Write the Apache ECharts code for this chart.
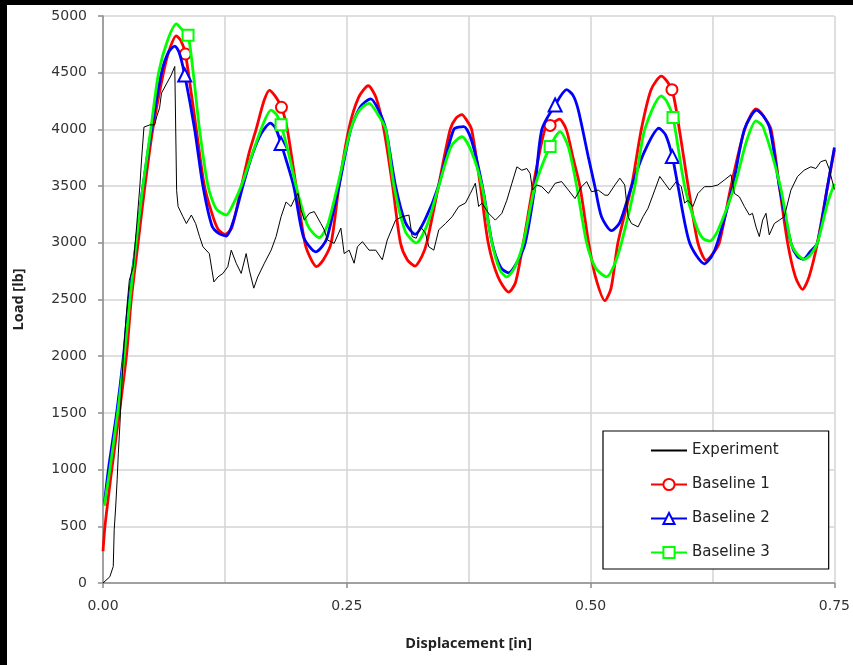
<!DOCTYPE html>
<html><head><meta charset="utf-8">
<script src="https://cdn.jsdelivr.net/npm/echarts@6/dist/echarts.min.js"></script>
<style>html,body{margin:0;padding:0;background:#fff}#c{width:853px;height:665px}</style>
</head><body><div id="c"></div>
<script>
// ---- data ----
const expX = [0.000,0.002,0.007,0.0105,0.0115,0.013,0.0145,0.0157,0.0174,0.019,0.0208,0.0232,0.0252,0.027,0.031,0.0344,0.0378,0.0395,0.042,0.0425,0.048,0.053,0.055,0.058,0.060,0.065,0.070,0.0736,0.0753,0.0755,0.077,0.082,0.0855,0.0906,0.095,0.099,0.1025,0.109,0.1137,0.118,0.123,0.128,0.1315,0.1366,0.1417,0.1468,0.150,0.1546,0.1587,0.1655,0.1724,0.1775,0.1826,0.1877,0.1928,0.196,0.200,0.203,0.2064,0.2115,0.2166,0.2234,0.2268,0.2302,0.237,0.2439,0.2473,0.2524,0.2575,0.2609,0.266,0.2728,0.2797,0.2864,0.2915,0.300,0.3068,0.3137,0.317,0.3212,0.3256,0.3307,0.3341,0.3392,0.3443,0.3512,0.358,0.3648,0.3716,0.3767,0.3818,0.3852,0.3886,0.3954,0.4023,0.409,0.4141,0.4193,0.4244,0.4295,0.4346,0.438,0.4404,0.4448,0.4499,0.4567,0.4636,0.4703,0.4772,0.484,0.4908,0.4959,0.501,0.5078,0.5147,0.518,0.5249,0.530,0.535,0.5385,0.5419,0.5487,0.5538,0.5589,0.5658,0.5709,0.576,0.5811,0.5879,0.593,0.5964,0.5998,0.6049,0.610,0.6168,0.6236,0.6305,0.6373,0.644,0.6475,0.6526,0.6577,0.6628,0.666,0.6696,0.673,0.6764,0.6798,0.6832,0.6884,0.6935,0.6986,0.7054,0.7122,0.719,0.7258,0.731,0.736,0.7411,0.7445,0.750];
const expY = [0,10,55,145,470,670,910,1140,1410,1700,2000,2290,2500,2670,2790,3140,3500,3730,4020,4030,4040,4040,4110,4190,4320,4400,4480,4555,4540,3460,3320,3230,3170,3245,3170,3055,2965,2905,2655,2700,2730,2790,2935,2820,2730,2905,2760,2600,2700,2820,2935,3055,3230,3360,3320,3380,3435,3290,3200,3260,3275,3170,3115,3025,2995,3130,2905,2935,2820,2965,3010,2935,2935,2850,3025,3200,3230,3245,3055,3040,3140,3085,2965,2935,3115,3170,3230,3320,3350,3435,3525,3320,3350,3260,3200,3260,3375,3525,3670,3640,3655,3610,3465,3510,3495,3435,3525,3540,3465,3390,3495,3540,3450,3465,3420,3420,3510,3570,3510,3230,3170,3140,3230,3305,3465,3585,3525,3465,3540,3495,3350,3375,3320,3435,3495,3495,3510,3555,3600,3435,3405,3320,3245,3260,3140,3055,3200,3260,3070,3170,3200,3230,3465,3585,3640,3670,3655,3715,3730,3655,3470];

const b1X = [0.000,0.002,0.009,0.0167,0.024,0.029,0.036,0.043,0.051,0.062,0.068,0.075,0.080,0.090,0.0957,0.104,0.112,0.118,0.125,0.132,0.142,0.150,0.157,0.165,0.1706,0.176,0.189,0.198,0.207,0.213,0.219,0.226,0.234,0.242,0.252,0.262,0.272,0.280,0.288,0.297,0.305,0.312,0.320,0.327,0.332,0.344,0.356,0.362,0.368,0.373,0.378,0.387,0.395,0.405,0.416,0.423,0.431,0.441,0.453,0.468,0.475,0.482,0.489,0.498,0.505,0.5147,0.521,0.528,0.542,0.552,0.562,0.5725,0.591,0.600,0.610,0.6185,0.625,0.632,0.644,0.658,0.6696,0.677,0.685,0.6935,0.702,0.710,0.7173,0.724,0.7326,0.743,0.750];
const b1Y = [280,500,1000,1500,2000,2500,3000,3500,4000,4500,4700,4825,4780,4350,4000,3500,3250,3120,3075,3130,3500,3800,4000,4250,4345,4300,4000,3500,3000,2860,2790,2850,3000,3500,4000,4280,4385,4280,4000,3500,3000,2850,2795,2880,3000,3500,4000,4100,4130,4080,4000,3500,3000,2700,2565,2650,3000,3500,4000,4090,4000,3750,3500,3000,2700,2490,2600,3000,3500,4000,4350,4470,4000,3500,3000,2845,2900,3000,3500,4000,4180,4120,4000,3500,3000,2700,2590,2700,3000,3500,3820];
const b1MarkX = [0.0845,0.183,0.4585,0.5834];
const b1MarkY = [4665,4195,4035,4350];

const b2X = [0.0013,0.0055,0.014,0.021,0.0266,0.034,0.041,0.0497,0.060,0.067,0.0736,0.078,0.094,0.1025,0.1117,0.119,0.1264,0.134,0.1434,0.152,0.162,0.1717,0.177,0.1955,0.2057,0.2183,0.225,0.230,0.242,0.254,0.264,0.2745,0.282,0.290,0.300,0.310,0.320,0.330,0.344,0.3597,0.370,0.378,0.389,0.399,0.408,0.416,0.424,0.433,0.443,0.450,0.4755,0.482,0.4874,0.4976,0.5044,0.5112,0.5215,0.530,0.542,0.555,0.570,0.577,0.5896,0.6015,0.6168,0.624,0.630,0.6458,0.6577,0.6703,0.677,0.684,0.6935,0.7054,0.712,0.718,0.725,0.7326,0.743,0.750];
const b2Y = [690,1000,1500,2000,2500,3000,3500,4000,4500,4680,4735,4680,4000,3500,3150,3080,3060,3200,3500,3750,3960,4055,4010,3500,3050,2920,2970,3050,3500,4000,4200,4270,4180,4000,3500,3180,3075,3200,3500,4000,4025,3900,3500,3000,2780,2735,2820,3000,3500,4000,4350,4300,4170,3760,3495,3230,3107,3180,3500,3800,4010,3950,3500,3000,2815,2880,3000,3500,4000,4170,4120,4000,3500,3000,2880,2855,2920,3000,3500,3840];
const b2MarkX = [0.0838,0.1826,0.4636,0.5838];
const b2MarkY = [4480,3875,4215,3760];

const b3X = [0.0013,0.007,0.015,0.0218,0.0276,0.034,0.041,0.049,0.057,0.066,0.0753,0.081,0.0925,0.099,0.1077,0.116,0.1264,0.134,0.1417,0.162,0.1724,0.178,0.190,0.198,0.210,0.2217,0.230,0.2405,0.254,0.263,0.2728,0.282,0.290,0.2984,0.310,0.3212,0.332,0.3443,0.357,0.368,0.378,0.3886,0.3988,0.407,0.414,0.422,0.431,0.443,0.4687,0.477,0.4857,0.4959,0.505,0.5163,0.524,0.5316,0.5453,0.5555,0.5725,0.578,0.5964,0.6083,0.615,0.622,0.630,0.6475,0.660,0.6696,0.677,0.6945,0.7054,0.712,0.719,0.726,0.7326,0.743,0.750];
const b3Y = [680,1000,1500,2000,2500,3000,3500,4000,4500,4780,4930,4880,4500,4000,3500,3300,3245,3350,3500,4000,4170,4130,3800,3500,3150,3045,3150,3500,4000,4170,4230,4130,4000,3500,3100,3000,3150,3500,3850,3935,3800,3500,3000,2760,2700,2780,3000,3500,3980,3850,3500,3000,2780,2700,2800,3000,3500,4000,4295,4250,3500,3150,3040,3015,3100,3500,3900,4075,4020,3500,3000,2900,2855,2900,3000,3350,3520];
const b3MarkX = [0.0872,0.1826,0.4585,0.5845];
const b3MarkY = [4830,4040,3850,4105];

const xTicks = [0, 0.25, 0.5, 0.75];
const yTicks = [0,500,1000,1500,2000,2500,3000,3500,4000,4500,5000];

// ---- build ----
function build(xs, ys, mx, my) {
  const pts = xs.map((x, i) => ({ value: [x, ys[i]], symbol: 'none' }));
  (mx || []).forEach((x, i) => pts.push({ value: [x, my[i]] }));
  pts.sort((a, b) => a.value[0] - b.value[0]);
  return pts;
}
function plain(xs, ys) { return xs.map((x, i) => [x, ys[i]]); }

const font = 'DejaVu Sans';
const chart = echarts.init(document.getElementById('c'), null, { renderer: 'canvas' });
chart.setOption({
  animation: false,
  backgroundColor: '#ffffff',
  graphic: [
    { type: 'rect', left: 0, top: 0, z: 100, shape: { width: 853, height: 5 }, style: { fill: '#000' } },
    { type: 'rect', left: 0, top: 0, z: 100, shape: { width: 7, height: 665 }, style: { fill: '#000' } }
  ],
  grid: { left: 103, right: 16, top: 16, bottom: 82, containLabel: false },
  xAxis: {
    type: 'value', min: xTicks[0], max: xTicks[xTicks.length - 1], interval: 0.25,
    name: 'Displacement [in]', nameLocation: 'middle', nameGap: 53,
    nameTextStyle: { fontFamily: 'Open Sans', fontWeight: 'bold', fontSize: 14.5, color: '#222' },
    axisLine: { show: true, onZero: false, lineStyle: { color: '#8c8c8c', width: 1.5 } },
    axisTick: { show: true, length: 5, lineStyle: { color: '#8c8c8c', width: 1.5 } },
    minorTick: { show: false, splitNumber: 2 },
    minorSplitLine: { show: true, lineStyle: { color: '#d4d4d4', width: 1.5 } },
    splitLine: { show: true, lineStyle: { color: '#d4d4d4', width: 1.5 } },
    axisLabel: { margin: 16, fontFamily: font, fontSize: 14, color: '#333',
      formatter: v => v.toFixed(2) }
  },
  yAxis: {
    type: 'value', min: yTicks[0], max: yTicks[yTicks.length - 1], interval: 500,
    name: 'Load [lb]', nameLocation: 'middle', nameGap: 77, nameRotate: 90,
    nameTextStyle: { fontFamily: 'Open Sans', fontWeight: 'bold', fontSize: 14.5, color: '#222' },
    axisLine: { show: true, lineStyle: { color: '#8c8c8c', width: 1.5 } },
    axisTick: { show: true, length: 5, lineStyle: { color: '#8c8c8c', width: 1.5 } },
    splitLine: { show: true, lineStyle: { color: '#d4d4d4', width: 1.5 } },
    axisLabel: { margin: 16, fontFamily: font, fontSize: 14, color: '#333',
      formatter: v => String(v) }
  },
  legend: {
    orient: 'vertical', left: 603, top: 431,
    padding: [12, 50, 9, 47], itemGap: 19, itemWidth: 36, itemHeight: 14,
    borderColor: '#000', borderWidth: 1.2, backgroundColor: '#fff',
    textStyle: { fontFamily: font, fontSize: 15, color: '#222' },
    data: [
      { name: 'Experiment', itemStyle: { opacity: 0 } },
      'Baseline 1', 'Baseline 2', 'Baseline 3'
    ]
  },
  series: [
    { name: 'Experiment', type: 'line', symbol: 'none', showSymbol: false, data: plain(expX, expY),
      lineStyle: { color: '#000', width: 1 }, itemStyle: { color: '#000' }, z: 5 },
    { name: 'Baseline 1', type: 'line', symbol: 'emptyCircle', symbolSize: 11, showSymbol: true, showAllSymbol: true,
      smooth: 0.25, data: build(b1X, b1Y, b1MarkX, b1MarkY),
      lineStyle: { color: '#ff0000', width: 2.8 }, itemStyle: { color: '#ff0000', borderWidth: 2 }, z: 2 },
    { name: 'Baseline 2', type: 'line', symbol: 'emptyTriangle', symbolSize: 13, showSymbol: true, showAllSymbol: true,
      smooth: 0.25, data: build(b2X, b2Y, b2MarkX, b2MarkY),
      lineStyle: { color: '#0000ff', width: 2.8 }, itemStyle: { color: '#0000ff', borderWidth: 2 }, z: 3 },
    { name: 'Baseline 3', type: 'line', symbol: 'emptyRect', symbolSize: 11, showSymbol: true, showAllSymbol: true,
      smooth: 0.25, data: build(b3X, b3Y, b3MarkX, b3MarkY),
      lineStyle: { color: '#00ff00', width: 2.8 }, itemStyle: { color: '#00ff00', borderWidth: 2 }, z: 4 }
  ]
});
</script></body></html>
